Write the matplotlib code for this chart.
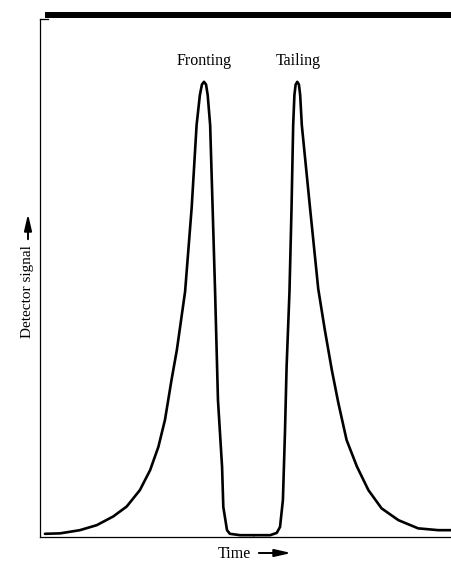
import matplotlib
matplotlib.use("Agg")
import matplotlib.pyplot as plt
from matplotlib.lines import Line2D
from matplotlib.patches import FancyArrowPatch

# ---------------------------------------------------------------------------
# Data (time and signal in arbitrary units, peak = 100)
# ---------------------------------------------------------------------------
fronting_time = [1.2, 4.9, 9.7, 13.8, 17.8, 21.1, 24.3, 26.8, 28.8, 30.4,
                 32.0, 33.3, 35.3, 36.9, 38.1, 38.9, 39.4, 39.9, 40.4, 40.8,
                 41.4, 42.0, 42.6, 43.3, 44.3, 44.6, 45.5, 46.2, 48.7, 52.0]
fronting_signal = [0.7, 0.8, 1.5, 2.6, 4.5, 6.7, 10.3, 14.7, 19.8, 25.7,
                   34.5, 41.1, 53.9, 72.3, 90.5, 97.1, 99.4, 100.0, 99.4, 97.1,
                   90.5, 72.3, 53.9, 30.1, 15.4, 6.6, 1.5, 0.7, 0.4, 0.4]

tailing_time = [52.0, 56.0, 57.6, 58.4, 59.1, 59.6, 60.0, 60.7, 61.2, 61.6,
                61.9, 62.2, 62.6, 63.0, 63.3, 63.7, 65.7, 67.7, 69.3, 71.0,
                72.6, 74.6, 77.1, 79.9, 83.1, 87.2, 92.0, 96.9, 100.0]
tailing_signal = [0.4, 0.4, 0.9, 2.2, 8.1, 22.9, 37.4, 53.9, 72.3, 90.5,
                  97.1, 99.4, 100.0, 99.4, 97.1, 90.5, 72.3, 54.5, 45.5, 36.7,
                  29.4, 21.3, 15.5, 10.3, 6.3, 3.7, 1.9, 1.5, 1.5]

peak_labels = ["Fronting", "Tailing"]
label_time = [39.9, 62.8]

SERIF = "Liberation Serif"
ARROW = "-|>,head_length=0.7,head_width=0.16"

fig = plt.figure(figsize=(4.51, 5.61), dpi=100)
W, H = 451, 561
ax = fig.add_axes([40 / W, (H - 537) / H, (W - 40) / W, (537 - 19) / H])

for t, s in [(fronting_time, fronting_signal), (tailing_time, tailing_signal)]:
    ax.plot(t, s, color="black", lw=1.9,
            solid_joinstyle="round", solid_capstyle="round")

ax.set_xlim(0, 100)
ax.set_ylim(0, 113.8)
ax.set_xticks([])
ax.set_yticks([])
for side in ["top", "right"]:
    ax.spines[side].set_visible(False)
for side in ["left", "bottom"]:
    ax.spines[side].set_linewidth(0.9)

for name, t in zip(peak_labels, label_time):
    ax.text(t, 102.8, name, ha="center", va="bottom", fontsize=11.5,
            family=SERIF)

# axis labels with arrows
fig.text(218 / W, 1 - 554 / H, "Time", ha="left", va="center",
         fontsize=11.5, family=SERIF)
fig.add_artist(FancyArrowPatch(
    (256 / W, 1 - 553 / H), (294 / W, 1 - 553 / H),
    transform=fig.transFigure, arrowstyle=ARROW,
    mutation_scale=14, lw=1.4, color="black"))

fig.text(27 / W, 1 - 292 / H, "Detector signal", ha="center", va="center",
         rotation=90, fontsize=11, family=SERIF)
fig.add_artist(FancyArrowPatch(
    (28 / W, 1 - 242 / H), (28 / W, 1 - 211 / H),
    transform=fig.transFigure, arrowstyle=ARROW,
    mutation_scale=14, lw=1.4, color="black"))

# thick page border at the top of the scan
fig.add_artist(Line2D([48 / W, 1.0], [1 - 15 / H, 1 - 15 / H],
                      transform=fig.transFigure, color="black", lw=4.3))
fig.add_artist(Line2D([40 / W, 48 / W], [1 - 19 / H, 1 - 19 / H],
                      transform=fig.transFigure, color="black", lw=0.9))

fig.savefig("out.png", dpi=100)
